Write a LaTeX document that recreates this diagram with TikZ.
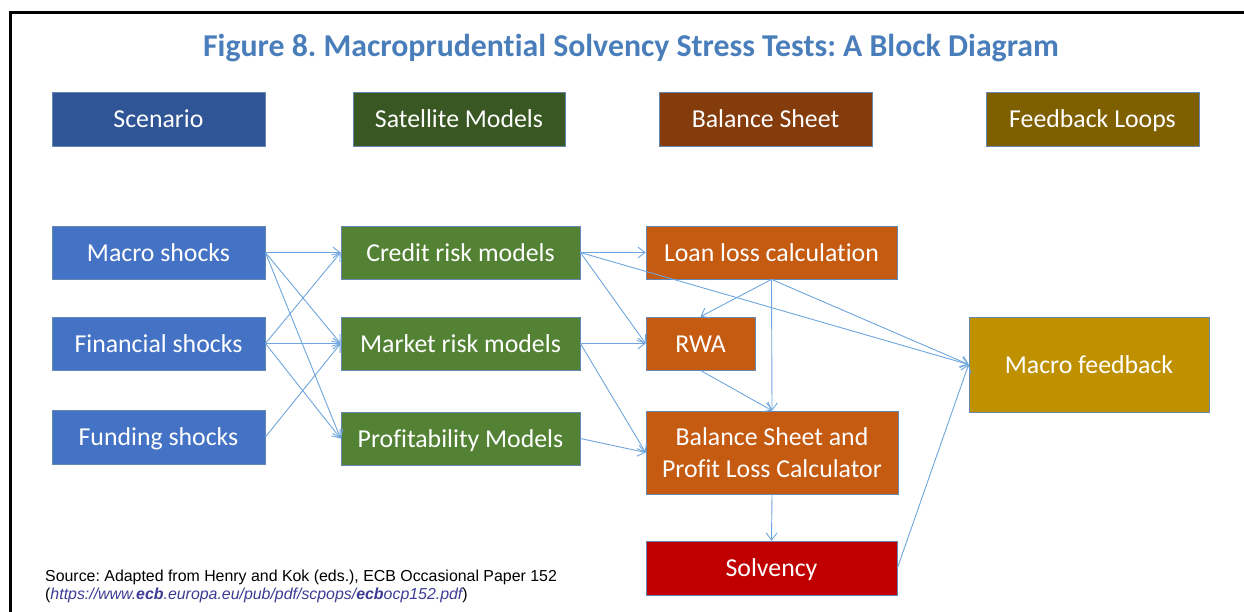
\documentclass[tikz,border=0pt]{standalone}
\usepackage{fontspec}
\setmainfont{Carlito}[RawFeature={-liga;-clig;-dlig}]
\newfontfamily\arialfont{Liberation Sans}
\usetikzlibrary{arrows.meta}
\definecolor{titleblue}{RGB}{74,126,187}
\definecolor{cScen}{RGB}{47,85,151}
\definecolor{cSat}{RGB}{56,87,35}
\definecolor{cBS}{RGB}{132,60,12}
\definecolor{cFB}{RGB}{127,96,0}
\definecolor{cShock}{RGB}{68,114,196}
\definecolor{cModel}{RGB}{84,130,53}
\definecolor{cCalc}{RGB}{197,90,17}
\definecolor{cSolv}{RGB}{192,0,0}
\definecolor{cMfb}{RGB}{191,144,0}
\definecolor{boxline}{RGB}{100,135,180}
\definecolor{arrowblue}{RGB}{110,165,220}
\definecolor{urlblue}{RGB}{60,60,150}
\frenchspacing
\begin{document}
\begin{tikzpicture}[x=1pt,y=-1pt,
  blk/.style={draw=boxline, line width=0.8pt, text=white, inner sep=0pt, align=center,
    font=\fontsize{25.8}{31}\selectfont},
  one/.style={blk, text height=21pt, text depth=3.4pt},
  conn/.style={draw=arrowblue, line width=0.9pt, -{Straight Barb[length=7pt,width=11pt,line width=0.9pt]}}]
\useasboundingbox (0,0) rectangle (1244,612);
\draw[line width=3pt, line cap=rect] (10,612) -- (10,13) -- (1243,13);
\node[text=titleblue, font=\bfseries\fontsize{31.8}{36}\selectfont] (title) at (631,48) {Figure 8. Macroprudential Solvency Stress Tests: A Block Diagram};
% headers
\node[one, fill=cScen, minimum width=213pt, minimum height=54pt] (scen) at (158.5,119) {Scenario};
\node[one, fill=cSat, minimum width=212pt, minimum height=54pt] (sat) at (459,119) {Satellite Models};
\node[one, fill=cBS, minimum width=213pt, minimum height=54pt] (bs) at (765.5,119) {Balance Sheet};
\node[one, fill=cFB, minimum width=213pt, minimum height=54pt] (fb) at (1092.5,119) {Feedback Loops};
% shocks
\node[one, fill=cShock, minimum width=213pt, minimum height=53pt] (macro) at (158.5,252.5) {Macro shocks};
\node[one, fill=cShock, minimum width=213pt, minimum height=53pt] (fin) at (158.5,343.5) {Financial shocks};
\node[one, fill=cShock, minimum width=213pt, minimum height=54pt] (fund) at (158.5,437) {Funding shocks};
% models
\node[one, fill=cModel, minimum width=239pt, minimum height=53pt] (credit) at (460.5,252.5) {Credit risk models};
\node[one, fill=cModel, minimum width=239pt, minimum height=53pt] (market) at (460.5,343.5) {Market risk models};
\node[one, fill=cModel, minimum width=239pt, minimum height=53pt] (profit) at (460.5,438.5) {Profitability Models};
% balance sheet
\node[one, fill=cCalc, minimum width=251pt, minimum height=53pt] (loan) at (771.5,252.5) {Loan loss calculation};
\node[one, fill=cCalc, minimum width=109pt, minimum height=53pt] (rwa) at (700.5,343.5) {RWA};
\node[blk, fill=cCalc, minimum width=252pt, minimum height=83pt, font=\fontsize{25.8}{32}\selectfont] (bspl) at (772,452.5) {Balance Sheet and\\Profit Loss Calculator};
\node[one, fill=cSolv, minimum width=251pt, minimum height=54pt] (solv) at (771.5,568) {Solvency};
\node[one, fill=cMfb, minimum width=240pt, minimum height=95pt] (mfb) at (1089,364.5) {Macro feedback};
% connectors
\draw[conn] (macro.east) -- (credit.west);
\draw[conn] (macro.east) -- (market.west);
\draw[conn] (macro.east) -- (profit.west);
\draw[conn] (fin.east) -- (credit.west);
\draw[conn] (fin.east) -- (market.west);
\draw[conn] (fin.east) -- (profit.west);
\draw[conn] (fund.east) -- (market.west);
\draw[conn] (credit.east) -- (loan.west);
\draw[conn] (credit.east) -- (rwa.west);
\draw[conn] (credit.east) -- (mfb.west);
\draw[conn] (market.east) -- (rwa.west);
\draw[conn] (market.east) -- (bspl.west);
\draw[conn] (profit.east) -- (bspl.west);
\draw[conn] (loan.south) -- (rwa.north);
\draw[conn] (loan.south) -- (bspl.north);
\draw[conn] (loan.south) -- (mfb.west);
\draw[conn] (rwa.south) -- (bspl.north);
\draw[conn] (bspl.south) -- (solv.north);
\draw[conn] (solv.east) -- (mfb.west);
% source
\node[anchor=north west, align=left, inner sep=0pt, font=\arialfont\fontsize{15.9}{18}\selectfont] (src) at (45,570)
  {Source: Adapted from Henry and Kok (eds.), ECB Occasional Paper 152\\
   (\textcolor{urlblue}{\itshape https://www.\textbf{ecb}.europa.eu/pub/pdf/scpops/\textbf{ecb}ocp152.pdf})};
\end{tikzpicture}
\end{document}
